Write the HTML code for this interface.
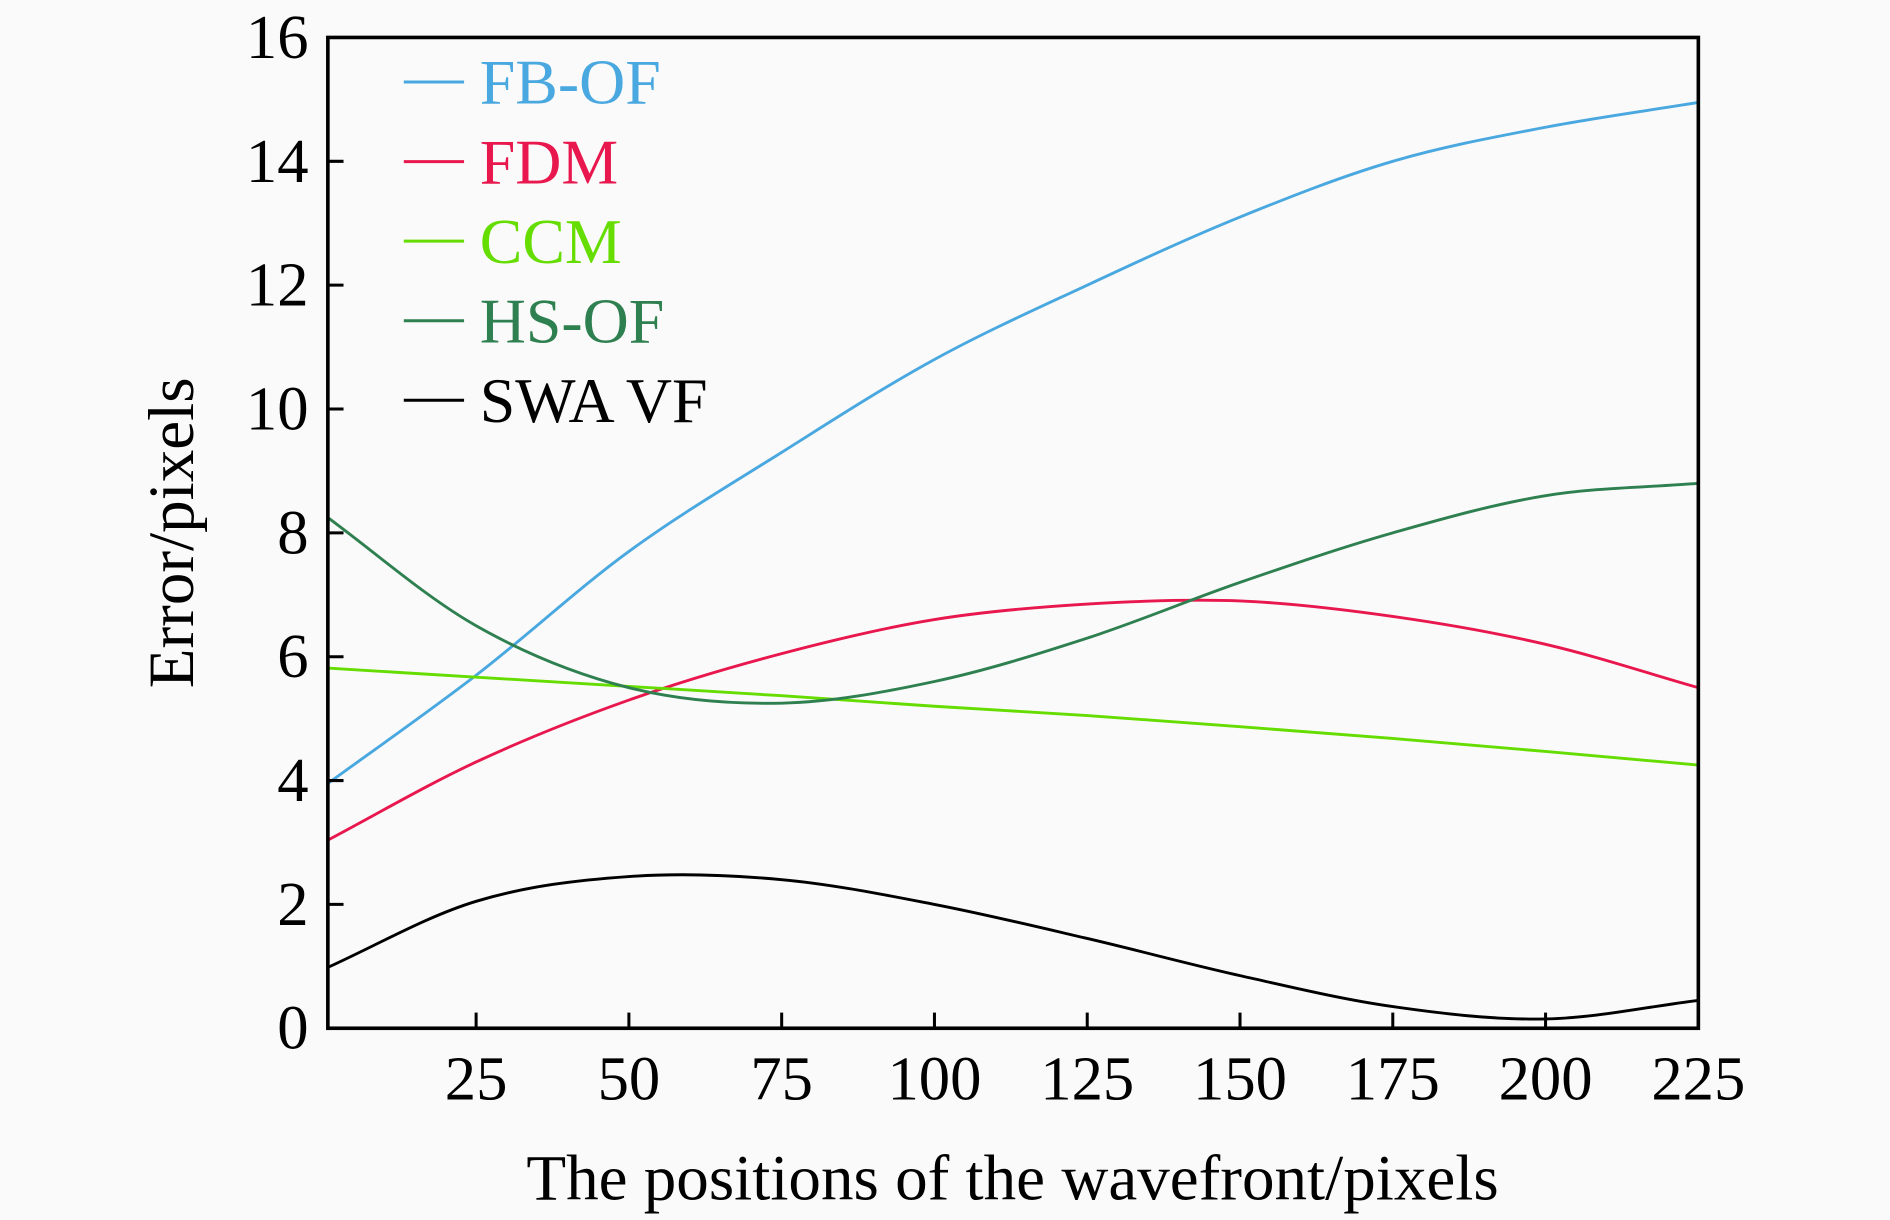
<!DOCTYPE html>
<html><head><meta charset="utf-8"><style>body{margin:0;background:#fafafa}svg{display:block}text{font-family:"Liberation Serif",serif}</style></head>
<body>
<svg id="chart" width="1890" height="1220" viewBox="0 0 1568 1012">
<rect x="0" y="0" width="1568" height="1012" fill="#fafafa"/>
<defs><clipPath id="clip"><rect x="272" y="31" width="1137" height="822"/></clipPath></defs>
<g id="plot"></g>
</svg>
<script>
const xTicks=[25,50,75,100,125,150,175,200,225];
const yTicks=[0,2,4,6,8,10,12,14,16];
const seriesNames=["FB-OF","FDM","CCM","HS-OF","SWA VF"];
const seriesColors=["#4aa8e0","#e8174e","#66dd00","#2f8050","#000000"];
const xVals=[0,25,50,75,100,125,150,175,200,225];
const yFB=[3.9,5.7,7.7,9.3,10.8,12.0,13.1,14.0,14.55,14.95];
const yFDM=[3.0,4.3,5.3,6.05,6.6,6.85,6.9,6.65,6.2,5.5];
const yCCM=[5.82,5.67,5.52,5.37,5.2,5.05,4.87,4.68,4.47,4.25];
const yHS=[8.3,6.5,5.5,5.25,5.6,6.3,7.2,8.0,8.6,8.8];
const ySWA=[0.95,2.05,2.45,2.4,2.0,1.45,0.85,0.35,0.15,0.45];
const L=272,R=1409,T=31,B=853;
const X=v=>395+(v-25)*(1409-395)/200;
const Y=v=>B-v*(B-T)/16;
const ns="http://www.w3.org/2000/svg";
const g=document.getElementById('plot');
function mk(t,a,txt){const e=document.createElementNS(ns,t);for(const k in a)e.setAttribute(k,a[k]);if(txt!==undefined)e.textContent=txt;g.appendChild(e);return e;}
function path(xs,ys){const p=xs.map((x,i)=>[X(x),Y(ys[i])]);let d="M"+p[0][0]+","+p[0][1];
for(let i=0;i<p.length-1;i++){const p0=p[i-1]||[2*p[0][0]-p[1][0],2*p[0][1]-p[1][1]],p1=p[i],p2=p[i+1],p3=p[i+2]||[2*p2[0]-p1[0],2*p2[1]-p1[1]];
d+=" C"+(p1[0]+(p2[0]-p0[0])/6)+","+(p1[1]+(p2[1]-p0[1])/6)+" "+(p2[0]-(p3[0]-p1[0])/6)+","+(p2[1]-(p3[1]-p1[1])/6)+" "+p2[0]+","+p2[1];}return d;}
const data=[yFB,yFDM,yCCM,yHS,ySWA];
const ids=["fb-of","fdm","ccm","hs-of","swa-vf"];
data.forEach((s,i)=>{const e=mk('path',{d:path(xVals,s),fill:'none',stroke:seriesColors[i],'stroke-width':2.4,'clip-path':'url(#clip)'});

});
const fr=mk('rect',{x:L,y:T,width:R-L,height:B-T,fill:'none',stroke:'#000','stroke-width':3});


xTicks.forEach(v=>{const t=mk('line',{x1:X(v),x2:X(v),y1:B,y2:B-13,stroke:'#000','stroke-width':2.5});


const l=mk('text',{x:X(v),y:912,'text-anchor':'middle','font-size':52},String(v));

});
yTicks.forEach(v=>{const t=mk('line',{x1:L,x2:L+13,y1:Y(v),y2:Y(v),stroke:'#000','stroke-width':2.5});


const l=mk('text',{x:256,y:Y(v)+17,'text-anchor':'end','font-size':52},String(v));

});
const xt=mk('text',{x:840,y:995,'text-anchor':'middle','font-size':54},'The positions of the wavefront/pixels');


const yt=mk('text',{x:0,y:0,'text-anchor':'middle','font-size':54,transform:'translate(160,442) rotate(-90)'},'Error/pixels');


seriesNames.forEach((n,i)=>{const y=68+i*66;
const ln=mk('line',{x1:335,x2:385,y1:y,y2:y,stroke:seriesColors[i],'stroke-width':2.5});


const tx=mk('text',{x:398,y:y+18,'font-size':53,fill:seriesColors[i]},n);

});
</script>
</body></html>
